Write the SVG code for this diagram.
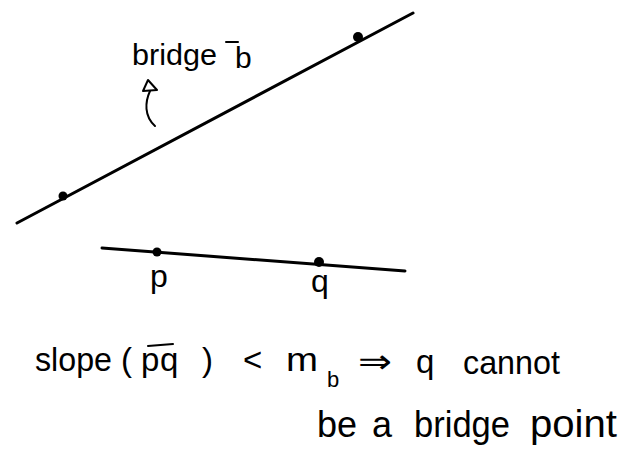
<svg xmlns="http://www.w3.org/2000/svg" width="622" height="462" viewBox="0 0 622 462">
  <style>
    .ln { stroke: #000; stroke-width: 3; stroke-linecap: round; fill: none; }
    .thin { stroke: #000; stroke-width: 2; stroke-linecap: round; fill: none; }
    .dot { fill: #000; }
    .t { font-family: "Liberation Sans", "DejaVu Sans", sans-serif; fill: #000; }
  </style>
  <rect width="622" height="462" fill="#fff"/>
  <g id="bridge-line">
    <path class="ln" d="M17,223 L413,13"/>
    <circle class="dot" cx="63" cy="196" r="4.5"/>
    <circle class="dot" cx="358" cy="37" r="5"/>
  </g>
  <g id="bridge-label">
    <text class="t" x="132" y="65" font-size="30" textLength="85" lengthAdjust="spacingAndGlyphs">bridge</text>
    <text class="t" x="235" y="68" font-size="30">b</text>
    <path class="thin" d="M226,42 L238,42"/>
  </g>
  <g id="arrow">
    <path class="thin" d="M155,126 C144,116 145,102 150,91"/>
    <polygon points="148,80 143,91 157,90" fill="#fff" stroke="#000" stroke-width="2" stroke-linejoin="round"/>
  </g>
  <g id="pq-line">
    <path class="ln" d="M102,248 L405,271"/>
    <circle class="dot" cx="157" cy="252" r="4.5"/>
    <circle class="dot" cx="319" cy="262" r="5"/>
    <text class="t" x="150" y="287" font-size="32">p</text>
    <text class="t" x="311" y="292" font-size="32">q</text>
  </g>
  <g id="statement" class="t" font-size="33">
    <text x="35" y="371" textLength="77" lengthAdjust="spacingAndGlyphs">slope</text>
    <text x="121" y="371">(</text>
    <text x="141" y="371">p</text>
    <text x="160" y="371">q</text>
    <path class="thin" d="M148,346 L173,344"/>
    <text x="202" y="371">)</text>
    <text x="243" y="371">&lt;</text>
    <text x="286" y="371" textLength="32" lengthAdjust="spacingAndGlyphs">m</text>
    <text x="327" y="387" font-size="22">b</text>
    <text x="358" y="373" font-size="34" textLength="34" lengthAdjust="spacingAndGlyphs">⇒</text>
    <text x="416" y="373">q</text>
    <text x="463" y="374" textLength="97" lengthAdjust="spacingAndGlyphs">cannot</text>
    <text x="317" y="437" font-size="36">be</text>
    <text x="372" y="437" font-size="36">a</text>
    <text x="414" y="437" font-size="36" textLength="96" lengthAdjust="spacingAndGlyphs">bridge</text>
    <text x="530" y="437" font-size="38" textLength="87" lengthAdjust="spacingAndGlyphs">point</text>
  </g>
</svg>
